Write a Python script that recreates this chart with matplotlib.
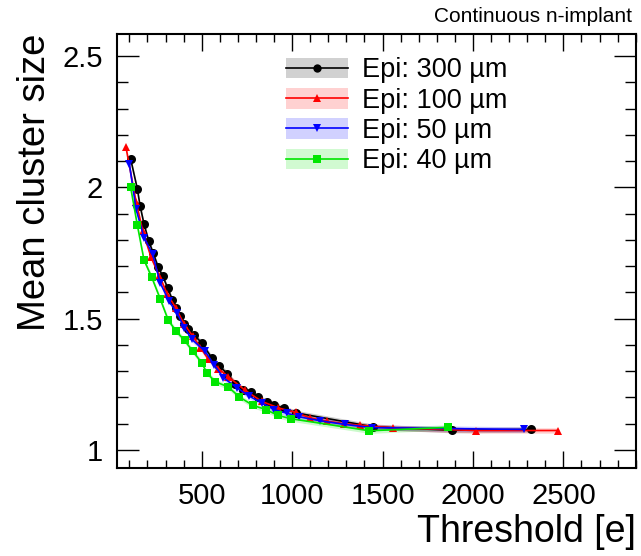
import numpy as np
import matplotlib
matplotlib.use('Agg')
import matplotlib.pyplot as plt
from matplotlib.lines import Line2D
from matplotlib.patches import Patch
from matplotlib.ticker import MultipleLocator, FuncFormatter

plt.rcParams['font.family'] = ['Liberation Sans', 'DejaVu Sans']

# Epi: 300 um
thr_300 = [107, 144, 159, 181, 207, 232, 260, 284, 312, 338, 358, 380, 404, 426, 460,
           500, 555, 597, 642, 684, 727, 771, 813, 860, 900, 956, 1022, 1449, 1886, 2320]
mcs_300 = [2.108, 1.994, 1.930, 1.860, 1.796, 1.749, 1.695, 1.663, 1.616, 1.571, 1.542,
           1.510, 1.481, 1.462, 1.436, 1.408, 1.351, 1.319, 1.291, 1.253, 1.230, 1.221,
           1.202, 1.183, 1.173, 1.158, 1.141, 1.088, 1.075, 1.078]

# Epi: 100 um
thr_100 = [81, 137, 174, 220, 266, 310, 356, 402, 450, 493, 537, 592, 647, 740, 832, 924,
           1020, 1099, 1195, 1287, 1376, 1560, 2016, 2472]
mcs_100 = [2.153, 1.945, 1.834, 1.733, 1.663, 1.593, 1.542, 1.480, 1.434, 1.390, 1.345,
           1.310, 1.279, 1.227, 1.185, 1.160, 1.143, 1.122, 1.109, 1.100, 1.094, 1.084,
           1.074, 1.074]

# Epi: 50 um
thr_50 = [100, 137, 181, 229, 270, 319, 362, 404, 446, 518, 568, 620, 694, 763, 832, 900,
          974, 1040, 1155, 1293, 1442, 2284]
mcs_50 = [2.089, 1.917, 1.809, 1.745, 1.637, 1.567, 1.523, 1.466, 1.421, 1.376, 1.325,
          1.275, 1.237, 1.205, 1.179, 1.154, 1.139, 1.126, 1.111, 1.097, 1.085, 1.078]

# Epi: 40 um
thr_40 = [107, 144, 181, 224, 270, 315, 358, 405, 452, 500, 528, 574, 647, 708, 782, 854,
          920, 992, 1427, 1861]
mcs_40 = [2.000, 1.856, 1.723, 1.657, 1.576, 1.494, 1.453, 1.417, 1.375, 1.332, 1.294,
          1.260, 1.240, 1.202, 1.170, 1.154, 1.132, 1.119, 1.073, 1.086]

labels = ['Epi: 300 µm', 'Epi: 100 µm', 'Epi: 50 µm', 'Epi: 40 µm']
colors = ['black', '#ff0000', '#0000ff', '#00e600']
markers = ['o', '^', 'v', 's']
series = [(thr_300, mcs_300), (thr_100, mcs_100), (thr_50, mcs_50), (thr_40, mcs_40)]

fig = plt.figure(figsize=(6.41, 5.56), dpi=100)
ax = fig.add_axes([0.1821, 0.1577, 0.8097, 0.7811])

handles = []
for (x, y), c, m, lab in zip(series, colors, markers, labels):
    x = np.array(x)
    y = np.array(y)
    # thin uncertainty band around each curve
    ax.fill_between(x, y - 0.01, y + 0.01, color=c, alpha=0.2, lw=0)
    ax.plot(x, y, color=c, lw=1.2, marker=m, ms=6 if m != 'o' else 6.5,
            markeredgewidth=0)
    handles.append((Patch(facecolor=c, alpha=0.18, lw=0),
                    Line2D([], [], color=c, lw=1.2, marker=m, ms=6, markeredgewidth=0)))

ax.set_xlim(30, 2900)
ax.set_ylim(0.93, 2.584)

ax.xaxis.set_major_locator(MultipleLocator(500))
ax.xaxis.set_minor_locator(MultipleLocator(100))
ax.yaxis.set_major_locator(MultipleLocator(0.5))
ax.yaxis.set_minor_locator(MultipleLocator(0.1))
ax.yaxis.set_major_formatter(FuncFormatter(lambda v, p: '%g' % v))

ax.tick_params(axis='both', which='both', direction='in', top=True, right=True,
               labelsize=21, width=1)
ax.tick_params(axis='x', which='major', length=12, pad=10)
ax.tick_params(axis='x', which='minor', length=6)
ax.tick_params(axis='y', which='major', length=16, pad=10)
ax.tick_params(axis='y', which='minor', length=8)
for s in ax.spines.values():
    s.set_linewidth(1.5)

ax.set_xlabel('Threshold [e]', fontsize=27, loc='right', labelpad=3)
ax.set_ylabel('Mean cluster size', fontsize=27.5, loc='top', labelpad=7)

ax.legend(handles, labels, loc='upper left', bbox_to_anchor=(0.326, 0.946),
          frameon=False, fontsize=19.5, handlelength=2.3, handleheight=0.8,
          handletextpad=0.5, labelspacing=0.16, borderpad=0, borderaxespad=0)

fig.text(0.986, 0.953, 'Continuous n-implant', ha='right', va='bottom', fontsize=15)

fig.savefig('out.png', dpi=100)
